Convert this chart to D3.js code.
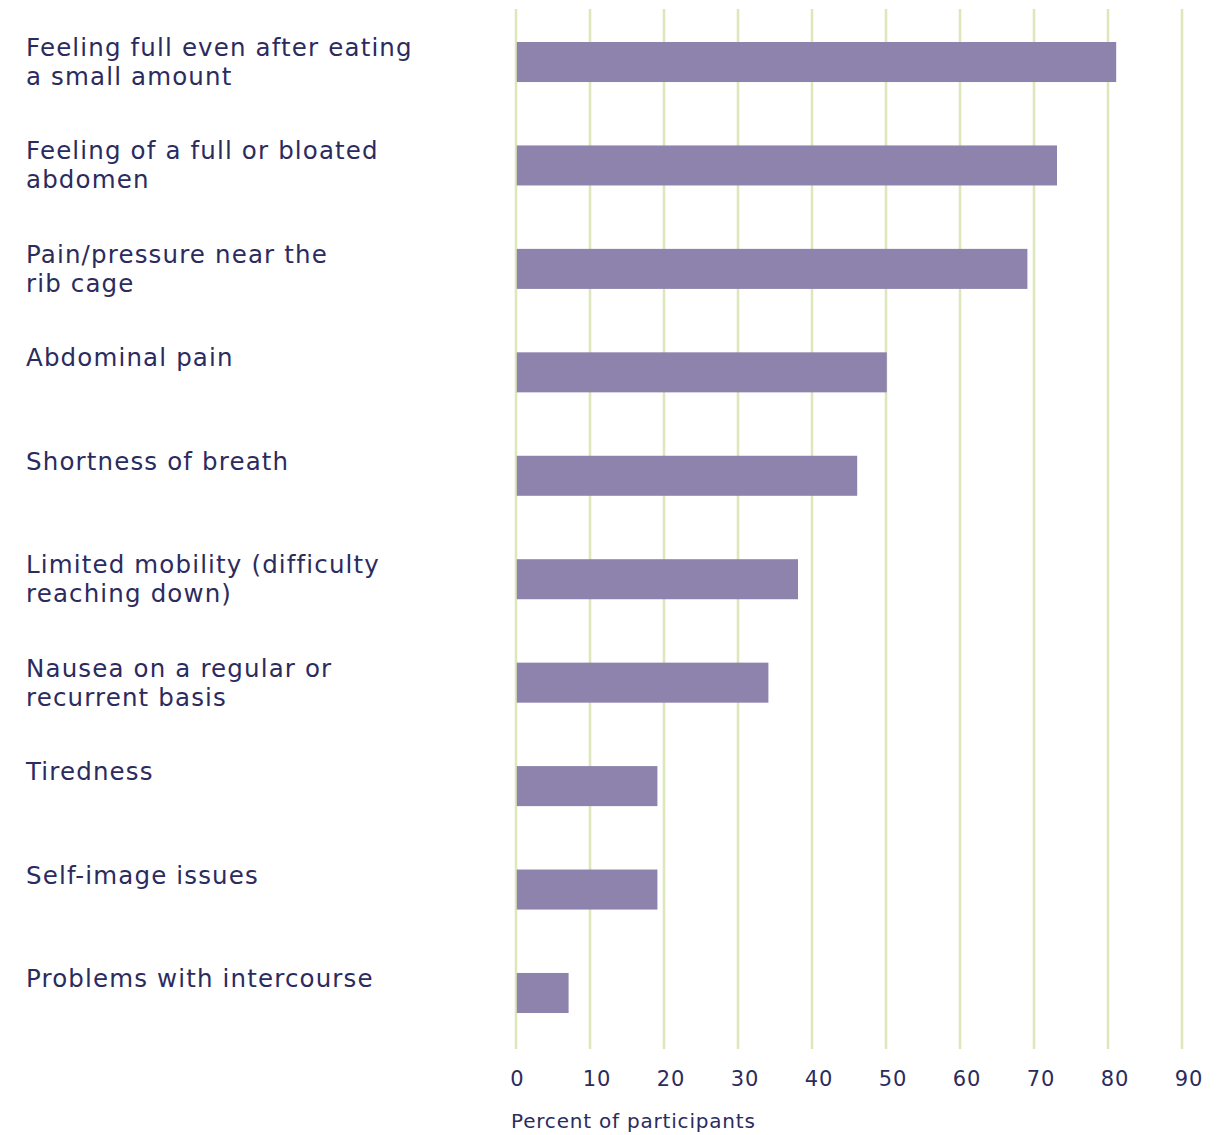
<!DOCTYPE html>
<html>
<head>
<meta charset="utf-8">
<script src="https://cdn.jsdelivr.net/npm/d3@7"></script>
<style>
  html, body { margin: 0; padding: 0; background: #ffffff; }
  svg { display: block; }
  .label, .tick-label, .axis-title { font-family: "DejaVu Sans", "Noto Sans", sans-serif; fill: #2c2b5e; }
</style>
</head>
<body>
<svg id="chart" width="1228" height="1135"></svg>
<script>
// Symptoms reported, as multi-line labels
const categories = [
  ["Feeling full even after eating", "a small amount"],
  ["Feeling of a full or bloated", "abdomen"],
  ["Pain/pressure near the", "rib cage"],
  ["Abdominal pain"],
  ["Shortness of breath"],
  ["Limited mobility (difficulty", "reaching down)"],
  ["Nausea on a regular or", "recurrent basis"],
  ["Tiredness"],
  ["Self-image issues"],
  ["Problems with intercourse"]
];
// Percent of participants reporting each symptom
const values = [81, 73, 69, 50, 46, 38, 34, 19, 19, 7];
const tickValues = [0, 10, 20, 30, 40, 50, 60, 70, 80, 90];
const axisTitle = "Percent of participants";

const svg = d3.select("#chart");
const keys = categories.map(c => c.join(" "));

const x = d3.scaleLinear().domain([0, 90]).range([516, 1182]);
const y = d3.scaleBand().domain(keys).range([42, 1013]).paddingInner(0.613).paddingOuter(0);

// vertical gridlines
svg.append("g").selectAll("line")
  .data(tickValues)
  .join("line")
  .attr("x1", d => x(d)).attr("x2", d => x(d))
  .attr("y1", 9).attr("y2", 1049)
  .attr("stroke", "#dde7ba")
  .attr("stroke-width", 2.6);

// bars
svg.append("g").selectAll("rect")
  .data(values)
  .join("rect")
  .attr("x", x(0) + 0.8)
  .attr("y", (d, i) => y(keys[i]))
  .attr("width", d => x(d) - x(0))
  .attr("height", y.bandwidth())
  .attr("fill", "#8e83ad");

// category labels
const lab = svg.append("g").selectAll("text")
  .data(categories)
  .join("text")
  .attr("class", "label")
  .attr("x", 26)
  .attr("y", (d, i) => y(keys[i]) + 14)
  .attr("font-size", 24.5)
  .attr("letter-spacing", 1.15);
lab.selectAll("tspan")
  .data(d => d)
  .join("tspan")
  .attr("x", 26)
  .attr("dy", (d, j) => j === 0 ? 0 : 29)
  .text(d => d);

// tick labels
svg.append("g").selectAll("text")
  .data(tickValues)
  .join("text")
  .attr("class", "tick-label")
  .attr("x", d => x(d) + (d === 0 ? 1.5 : 7))
  .attr("y", 1086)
  .attr("text-anchor", "middle")
  .attr("font-size", 21)
  .attr("letter-spacing", 1)
  .text(d => d);

// axis title
svg.append("text")
  .attr("class", "axis-title")
  .attr("x", 511)
  .attr("y", 1128)
  .attr("font-size", 20)
  .attr("letter-spacing", 0.8)
  .text(axisTitle);
</script>
</body>
</html>
